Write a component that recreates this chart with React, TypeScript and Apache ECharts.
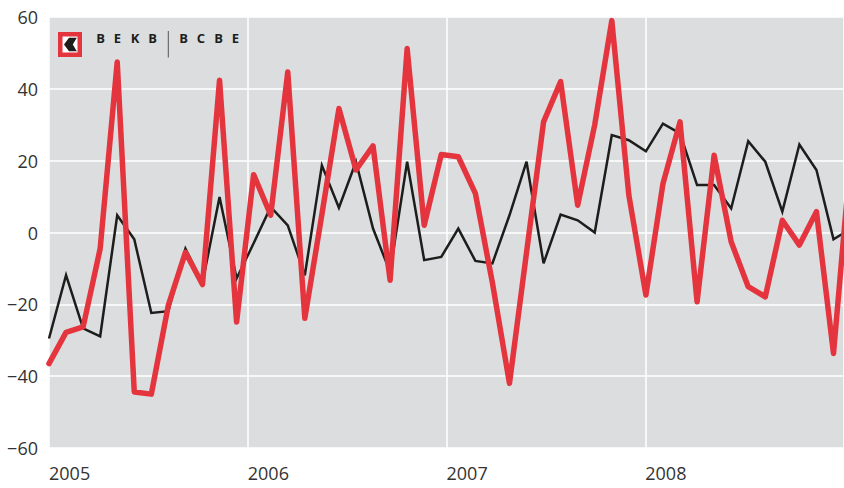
import React, { useEffect, useRef } from 'react';
import * as echarts from 'echarts';

// Year tick labels on the x axis
const yearTicks = [2005, 2006, 2007, 2008, 2009];
// y ticks
const yTicks = [-60, -40, -20, 0, 20, 40, 60];

// Red series (thick)
const redSeries = [
  -36.5, -27.8, -26.3, -4.5, 47.5, -44.4, -45, -20.2, -5.5, -14.5, 42.4, -24.9,
  16.1, 4.8, 44.7, -23.9, 5, 34.5, 17.4, 24.1, -13.3, 51.2, 2, 21.7,
  21.1, 10.9, -14, -42, -5.6, 30.8, 42, 7.6, 30, 59, 10.4, -17.4,
  13.6, 30.8, -19.3, 21.5, -2.6, -15.1, -17.9, 3.4, -3.5, 5.8, -33.7, 21,
];

// Black series (thin)
const blackSeries = [
  -29.5, -11.9, -26.7, -28.9, 4.8, -1.9, -22.4, -21.9, -4.5, -14, 9.9, -12.8,
  -3, 7.1, 2, -11.9, 18.7, 6.9, 19.7, 1.1, -11, 19.7, -7.7, -6.8,
  1.1, -7.9, -8.6, 4.8, 19.7, -8.6, 5, 3.4, 0, 27.1, 25.7, 22.6,
  30.3, 27.6, 13.2, 13.2, 6.7, 25.4, 19.7, 5.8, 24.5, 17.4, -1.9, 1,
];

const logoTop = ['B', 'E', 'K', 'B'];
const logoBottom = ['B', 'C', 'B', 'E'];

// spacing of the drawn points, in years
const STEP = 17.05 / 198.7;

export default function App() {
  const ref = useRef<HTMLDivElement>(null);

  useEffect(() => {
    const chart = echarts.init(ref.current as HTMLDivElement, null, { renderer: 'svg' });
    const toPts = (arr: number[]) => arr.map((v, i) => [yearTicks[0] + i * STEP, v]);
    const fmtY = (v: number) => (v < 0 ? '\u2212' + Math.abs(v) : String(v));

    const letterStyle = {
      fill: '#1d1d1b',
      font: 'bold 13px "Open Sans", "DejaVu Sans", sans-serif',
      align: 'center',
      verticalAlign: 'middle',
    };
    const topX = [100.5, 117.5, 135, 152.5];
    const botX = [183.7, 201, 218.5, 235.5];

    chart.setOption({
      animation: false,
      backgroundColor: '#ffffff',
      textStyle: { fontFamily: '"Open Sans", sans-serif' },
      grid: {
        left: 49,
        right: 0,
        top: 17,
        bottom: 40,
        show: true,
        backgroundColor: '#DCDDDF',
        borderWidth: 0,
        containLabel: false,
      },
      xAxis: {
        type: 'value',
        min: yearTicks[0],
        max: yearTicks[yearTicks.length - 1],
        interval: 1,
        axisLine: { show: false },
        axisTick: { show: false },
        splitLine: { show: true, lineStyle: { color: '#ffffff', width: 1.5 } },
        axisLabel: {
          show: true,
          showMaxLabel: false,
          align: 'left',
          margin: 16,
          color: '#333333',
          fontSize: 18,
          fontFamily: '"Open Sans", sans-serif',
          formatter: (v: number) => (v < yearTicks[yearTicks.length - 1] ? String(v) : ''),
        },
      },
      yAxis: {
        type: 'value',
        min: yTicks[0],
        max: yTicks[yTicks.length - 1],
        interval: 20,
        axisLine: { show: false },
        axisTick: { show: false },
        splitLine: { show: true, lineStyle: { color: '#ffffff', width: 1.5 } },
        axisLabel: {
          margin: 11,
          color: '#333333',
          fontSize: 18,
          fontFamily: '"Open Sans", sans-serif',
          formatter: fmtY,
        },
      },
      series: [
        {
          type: 'line',
          data: toPts(blackSeries),
          symbol: 'none',
          clip: true,
          lineStyle: { color: '#1d1d1b', width: 2.5, join: 'miter' },
          z: 2,
        },
        {
          type: 'line',
          data: toPts(redSeries),
          symbol: 'none',
          clip: true,
          lineStyle: { color: '#E4353F', width: 5.5, join: 'round', cap: 'round' },
          z: 3,
        },
      ],
      graphic: [
        { type: 'rect', shape: { x: 58, y: 32, width: 24, height: 25 }, style: { fill: '#E4353F' }, z: 10 },
        { type: 'rect', shape: { x: 62.5, y: 36.5, width: 15, height: 16 }, style: { fill: '#ffffff' }, z: 11 },
        {
          type: 'polygon',
          shape: {
            points: [
              [64, 44.5],
              [69, 37.8],
              [76.8, 37.8],
              [72.8, 44.5],
              [76.8, 51.2],
              [69, 51.2],
            ],
          },
          style: { fill: '#1d1d1b' },
          z: 12,
        },
        ...logoTop.map((t, i) => ({
          type: 'text',
          x: topX[i],
          y: 37.5,
          style: { ...letterStyle, text: t },
          z: 12,
        })),
        { type: 'line', shape: { x1: 168.3, y1: 31, x2: 168.3, y2: 57.5 }, style: { stroke: '#555555', lineWidth: 1 }, z: 12 },
        ...logoBottom.map((t, i) => ({
          type: 'text',
          x: botX[i],
          y: 37.5,
          style: { ...letterStyle, text: t },
          z: 12,
        })),
      ],
    });

    return () => chart.dispose();
  }, []);

  return (
    <div
      ref={ref}
      style={{ position: 'fixed', left: 0, top: 0, width: 844, height: 488 }}
    />
  );
}
